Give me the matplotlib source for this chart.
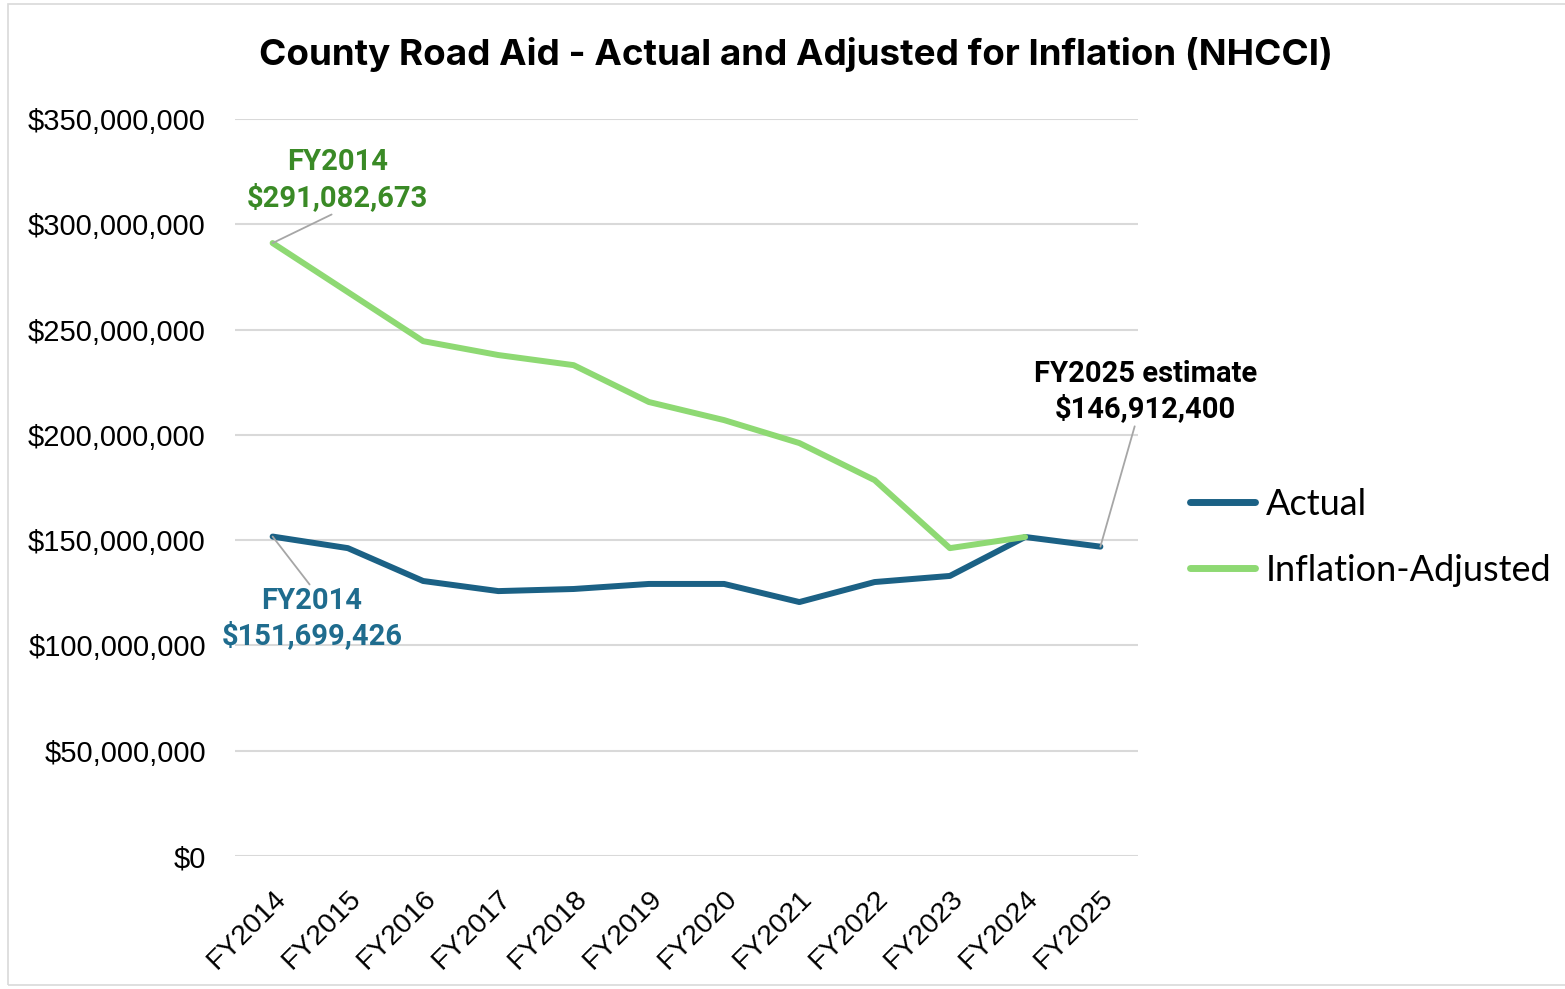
"""County Road Aid: actual vs inflation-adjusted (NHCCI) line chart."""
import matplotlib
matplotlib.use("Agg")
import matplotlib.pyplot as plt
from matplotlib.patches import Rectangle
from matplotlib.ticker import FuncFormatter

years = ["FY2014", "FY2015", "FY2016", "FY2017", "FY2018", "FY2019",
         "FY2020", "FY2021", "FY2022", "FY2023", "FY2024", "FY2025"]
actual = [151_699_426, 146_200_000, 130_600_000, 125_800_000, 126_800_000,
          129_200_000, 129_200_000, 120_600_000, 130_100_000, 133_000_000,
          151_500_000, 146_912_400]
adjusted = [291_082_673, 267_800_000, 244_500_000, 237_900_000, 233_100_000,
            215_600_000, 207_000_000, 196_100_000, 178_500_000, 146_200_000,
            151_500_000]
y_ticks = [0, 50_000_000, 100_000_000, 150_000_000, 200_000_000,
           250_000_000, 300_000_000, 350_000_000]

_BLUE = "#1B6185"
_GREEN = "#8ED973"
_GREEN_TEXT = "#3A8A26"
_BLUE_TEXT = "#1F6C8E"
_GRID = "#D9D9D9"
_LEADER = "#A6A6A6"

W, H = 1565, 989
fig = plt.figure(figsize=(W / 100, H / 100), dpi=100)
fig.patches.append(Rectangle((0.005, 0.004), 1.2, 0.992, transform=fig.transFigure,
                             fill=False, edgecolor="#D9D9D9", linewidth=1.2))
ax = fig.add_axes([235 / W, 1 - 856 / H, 903 / W, 737 / H])

x = list(range(len(years)))
ax.plot(x, actual, color=_BLUE, linewidth=4.3, solid_capstyle="round",
        solid_joinstyle="round", label="Actual", zorder=3)
ax.plot(x[:len(adjusted)], adjusted, color=_GREEN, linewidth=4.3,
        solid_capstyle="round", solid_joinstyle="round",
        label="Inflation-Adjusted", zorder=3)

ax.set_xlim(-0.5, len(years) - 0.5)
ax.set_ylim(0, 350_000_000)
ax.set_yticks(y_ticks)
ax.yaxis.set_major_formatter(FuncFormatter(lambda v, _: f"${v:,.0f}"))
ax.grid(axis="y", color=_GRID, linewidth=1.5)
ax.set_axisbelow(True)
for side in ("top", "right", "left", "bottom"):
    ax.spines[side].set_visible(False)
ax.tick_params(axis="both", length=0)
ax.tick_params(axis="y", labelsize=21, pad=21)
ax.set_xticks(x)
ax.set_xticklabels(years, rotation=45, ha="right", rotation_mode="anchor",
                   fontsize=20.5)
ax.tick_params(axis="x", pad=21)
for lbl in ax.get_xticklabels() + ax.get_yticklabels():
    lbl.set_family("Liberation Sans")

fig.text(796 / W, 1 - 55 / H, "County Road Aid - Actual and Adjusted for Inflation (NHCCI)",
         ha="center", va="center", fontsize=26.5, fontweight="bold", family="Inter")

# Callouts with thin gray leader lines
arrow = dict(arrowstyle="-", color=_LEADER, lw=1.3, shrinkA=0, shrinkB=0)
ax.annotate("FY2014\n$291,082,673", xy=(0, adjusted[0]), xytext=(0.86, 321_000_000),
            ha="center", va="center", fontsize=21, fontweight="bold",
            color=_GREEN_TEXT, family="Roboto", linespacing=1.28,
            arrowprops=dict(arrow, relpos=(0.5, 0)))
ax.annotate("FY2014\n$151,699,426", xy=(0, actual[0]), xytext=(0.52, 112_600_000),
            ha="center", va="center", fontsize=21, fontweight="bold",
            color=_BLUE_TEXT, family="Roboto", linespacing=1.28,
            arrowprops=dict(arrow, relpos=(0.5, 1)))
ax.annotate("FY2025 estimate\n$146,912,400", xy=(11, actual[-1]), xytext=(11.60, 220_400_000),
            ha="center", va="center", fontsize=21, fontweight="bold",
            color="black", family="Roboto", linespacing=1.28,
            annotation_clip=False,
            arrowprops=dict(arrow, relpos=(0.455, 0)))

leg = fig.legend(handles=ax.get_lines(), loc="center left",
                 bbox_to_anchor=(1190 / W, 1 - 537.5 / H), frameon=False,
                 prop={"family": "Lato", "size": 26}, handlelength=1.8,
                 handletextpad=0.3, labelspacing=0.92, borderpad=0,
                 borderaxespad=0)
for line in leg.get_lines():
    line.set_linewidth(5)

fig.savefig("out.png", dpi=100, facecolor="white")
